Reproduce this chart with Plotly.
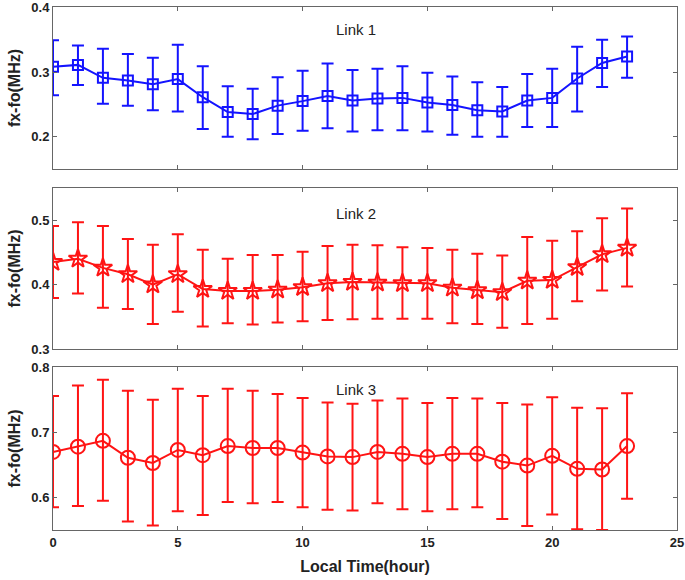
import plotly.graph_objects as go

hours = list(range(24))

link1_mean = [0.308, 0.311, 0.291, 0.287, 0.281, 0.289, 0.261, 0.238, 0.235, 0.248, 0.255, 0.263,
              0.256, 0.259, 0.260, 0.253, 0.249, 0.241, 0.239, 0.256, 0.260, 0.290, 0.314, 0.324]
link1_upper = [0.349, 0.341, 0.336, 0.328, 0.322, 0.342, 0.309, 0.278, 0.274, 0.292, 0.302, 0.313,
               0.303, 0.305, 0.309, 0.299, 0.293, 0.284, 0.277, 0.297, 0.305, 0.339, 0.350, 0.355]
link1_lower = [0.264, 0.280, 0.251, 0.248, 0.241, 0.239, 0.212, 0.200, 0.196, 0.204, 0.209, 0.213,
               0.208, 0.210, 0.210, 0.208, 0.203, 0.200, 0.200, 0.215, 0.215, 0.239, 0.277, 0.291]

link2_mean = [0.435, 0.440, 0.426, 0.416, 0.400, 0.416, 0.393, 0.390, 0.390, 0.392, 0.396, 0.402,
              0.404, 0.403, 0.402, 0.402, 0.395, 0.391, 0.388, 0.406, 0.407, 0.427, 0.447, 0.457]
link2_upper = [0.491, 0.497, 0.491, 0.471, 0.462, 0.478, 0.454, 0.440, 0.446, 0.446, 0.451, 0.460,
               0.462, 0.461, 0.458, 0.457, 0.454, 0.448, 0.445, 0.474, 0.468, 0.483, 0.503, 0.518]
link2_lower = [0.379, 0.386, 0.364, 0.362, 0.339, 0.358, 0.335, 0.340, 0.338, 0.341, 0.343, 0.345,
               0.346, 0.347, 0.347, 0.347, 0.340, 0.339, 0.333, 0.339, 0.347, 0.374, 0.391, 0.397]

link3_mean = [0.670, 0.678, 0.687, 0.661, 0.653, 0.673, 0.665, 0.679, 0.676, 0.676, 0.669, 0.663,
              0.662, 0.670, 0.667, 0.662, 0.667, 0.667, 0.655, 0.649, 0.664, 0.644, 0.643, 0.679]
link3_upper = [0.756, 0.772, 0.781, 0.764, 0.750, 0.767, 0.756, 0.767, 0.764, 0.759, 0.753, 0.746,
               0.744, 0.749, 0.752, 0.745, 0.753, 0.752, 0.745, 0.743, 0.754, 0.738, 0.737, 0.760]
link3_lower = [0.585, 0.587, 0.595, 0.563, 0.557, 0.579, 0.573, 0.593, 0.591, 0.593, 0.585, 0.581,
               0.580, 0.591, 0.582, 0.579, 0.582, 0.585, 0.567, 0.556, 0.574, 0.551, 0.550, 0.598]

link_names = ["Link 1", "Link 2", "Link 3"]
y_ranges = [[0.15, 0.4005], [0.3, 0.55], [0.55, 0.8005]]
x_ticks = [0, 5, 10, 15, 20, 25]

BLUE = "#1414ff"
RED = "#ff1414"
FONT = "Arial, Liberation Sans, sans-serif"

series = [
    (link1_mean, link1_upper, link1_lower, BLUE, "square-open", 10),
    (link2_mean, link2_upper, link2_lower, RED, "star-open", 14),
    (link3_mean, link3_upper, link3_lower, RED, "circle-open", 14),
]

domains = [[0.6902, 1.0], [0.3461, 0.6539], [0.0, 0.3117]]

fig = go.Figure()
for i, (m, up, lo, col, sym, sz) in enumerate(series):
    ax = "" if i == 0 else str(i + 1)
    fig.add_trace(go.Scatter(
        x=hours, y=m,
        mode="lines+markers",
        line=dict(color=col, width=2),
        marker=dict(symbol=sym, size=sz, color=col, line=dict(width=2, color=col)),
        error_y=dict(type="data", symmetric=False,
                     array=[u - v for u, v in zip(up, m)],
                     arrayminus=[v - l for v, l in zip(m, lo)],
                     color=col, thickness=2, width=6),
        xaxis="x" + ax, yaxis="y" + ax, showlegend=False,
    ))

layout = dict(
    width=685, height=580,
    margin=dict(l=53, r=8, t=7, b=50, autoexpand=False),
    paper_bgcolor="white", plot_bgcolor="white",
    font=dict(family=FONT, color="#222"),
    showlegend=False,
)
for i in range(3):
    ax = "" if i == 0 else str(i + 1)
    xa = dict(
        domain=[0, 1], range=[0, 25], tickvals=x_ticks,
        showticklabels=(i == 2), automargin=False, ticklabeloverflow="allow",
        ticks="inside", ticklen=4, tickcolor="#666",
        showline=True, linecolor="#666", linewidth=1, mirror="ticks",
        showgrid=False, zeroline=False,
        tickfont=dict(family=FONT, size=13, color="#222", weight="bold"),
        anchor="y" + ax,
    )
    if i == 2:
        xa["title"] = dict(text="Local Time(hour)", font=dict(family=FONT, size=16, color="#222", weight="bold"), standoff=12)
    ya = dict(
        domain=domains[i], range=y_ranges[i], dtick=0.1, tick0=0, automargin=False,
        ticklabeloverflow="allow",
        ticks="inside", ticklen=4, tickcolor="#666",
        showline=True, linecolor="#666", linewidth=1, mirror="ticks",
        showgrid=False, zeroline=False,
        tickfont=dict(family=FONT, size=13, color="#222", weight="bold"),
        tickformat=".1f",
        title=dict(text="fx-fo(MHz)", font=dict(family=FONT, size=16, color="#222", weight="bold"), standoff=6),
        anchor="x" + ax,
    )
    layout["xaxis" + ax] = xa
    layout["yaxis" + ax] = ya

fig.update_layout(**layout)

link_y = [0.86, 0.84, 0.86]
for i, name in enumerate(link_names):
    ax = "" if i == 0 else str(i + 1)
    fig.add_annotation(text=name, x=0.485, y=link_y[i], xref="x" + ax + " domain", yref="y" + ax + " domain",
                       yanchor="middle", xanchor="center",
                       showarrow=False, font=dict(family=FONT, size=15, color="#222"))

fig.write_html("out.html", config={"displayModeBar": False},
               post_script="document.body.style.margin='0px';")
